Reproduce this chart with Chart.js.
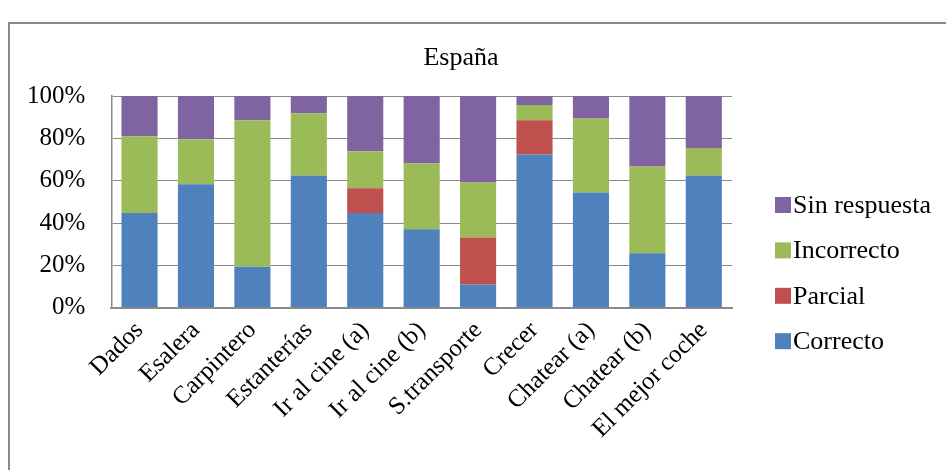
<!DOCTYPE html>
<html>
<head>
<meta charset="utf-8">
<script src="https://cdn.jsdelivr.net/npm/chart.js@4/dist/chart.umd.min.js"></script>
<style>
  html, body { margin: 0; padding: 0; background: #fff; overflow: hidden; }
  #wrap { position: relative; width: 946px; height: 470px; }
  #frame { position: absolute; left: 8px; top: 22px; width: 1200px; height: 1200px;
           border-left: 2px solid #8a8a8a; border-top: 2px solid #8a8a8a; pointer-events: none; }
  canvas { position: absolute; left: 0; top: 0; }
</style>
</head>
<body>
<div id="wrap">
  <canvas id="c" width="946" height="470"></canvas>
  <div id="frame"></div>
</div>
<script>
const categories = ['Dados','Esalera','Carpintero','Estanterías','Ir al cine (a)','Ir al cine (b)','S.transporte','Crecer','Chatear (a)','Chatear (b)','El mejor coche'];
const correcto     = [44.7, 58.3, 19.4, 62.4, 44.7, 37.1, 11.0, 72.4, 54.4, 25.7, 62.4];
const parcial      = [null, null, null, null, 11.8, null, 22.2, 16.1, null, null, null];
const incorrecto   = [36.3, 21.3, 69.2, 29.4, 17.4, 31.0, 25.9, 7.2, 35.0, 41.0, 13.1];
const sinRespuesta = [19.0, 20.4, 11.4, 8.2, 26.1, 31.9, 40.9, 4.3, 10.6, 33.3, 24.5];
const yTicks = [0, 20, 40, 60, 80, 100];
const seriesNames = ['Correcto', 'Parcial', 'Incorrecto', 'Sin respuesta'];
const seriesColors = ['#4F81BD', '#C0504D', '#9BBB59', '#8064A2'];
const chartTitle = 'España';

const FONT = '"Liberation Serif", "Times New Roman", serif';

const legendPlugin = {
  id: 'sideLegend',
  afterDraw(chart) {
    const ctx = chart.ctx;
    const a = chart.chartArea;
    const ds = chart.data.datasets;
    ctx.save();
    // title, centred over the whole chart frame
    ctx.font = '26px ' + FONT;
    ctx.fillStyle = '#000';
    ctx.textAlign = 'center';
    ctx.textBaseline = 'middle';
    ctx.fillText(chartTitle, chart.width / 2 - 12, a.top - 38);
    // legend, reversed order
    ctx.textAlign = 'left';
    for (let i = ds.length - 1; i >= 0; i--) {
      const row = ds.length - 1 - i;
      const y = a.top + 109 + row * 45.4;
      ctx.fillStyle = ds[i].backgroundColor;
      ctx.fillRect(a.right + 43, y - 8, 16, 16);
      ctx.fillStyle = '#000';
      ctx.fillText(ds[i].label, a.right + 61, y + 1);
    }
    ctx.restore();
  }
};

const values = [correcto, parcial, incorrecto, sinRespuesta];
new Chart(document.getElementById('c'), {
  type: 'bar',
  data: {
    labels: categories,
    datasets: seriesNames.map((n, i) => ({
      label: n,
      data: values[i],
      backgroundColor: seriesColors[i],
      borderWidth: 0,
      barPercentage: 1.0,
      categoryPercentage: 0.64
    }))
  },
  options: {
    responsive: false,
    animation: false,
    layout: { padding: { left: 1, right: 214, top: 96, bottom: 18 } },
    plugins: {
      legend: { display: false },
      tooltip: { enabled: false },
      title: { display: false }
    },
    scales: {
      x: {
        stacked: true,
        grid: { display: false, drawTicks: false },
        border: { display: true, color: '#8a8a8a', width: 2 },
        ticks: {
          color: '#000',
          font: { family: FONT, size: 25 },
          maxRotation: 45, minRotation: 45,
          padding: 8,
          autoSkip: false
        }
      },
      y: {
        stacked: true,
        min: 0, max: 100,
        afterBuildTicks(scale) { scale.ticks = yTicks.map(v => ({ value: v })); },
        grid: { color: '#8a8a8a', lineWidth: 1, drawTicks: false },
        border: { display: true, color: '#8a8a8a', width: 1.5 },
        ticks: {
          color: '#000',
          font: { family: FONT, size: 25 },
          padding: 26,
          callback: v => v + '%'
        }
      }
    }
  },
  plugins: [legendPlugin]
});
</script>
</body>
</html>
